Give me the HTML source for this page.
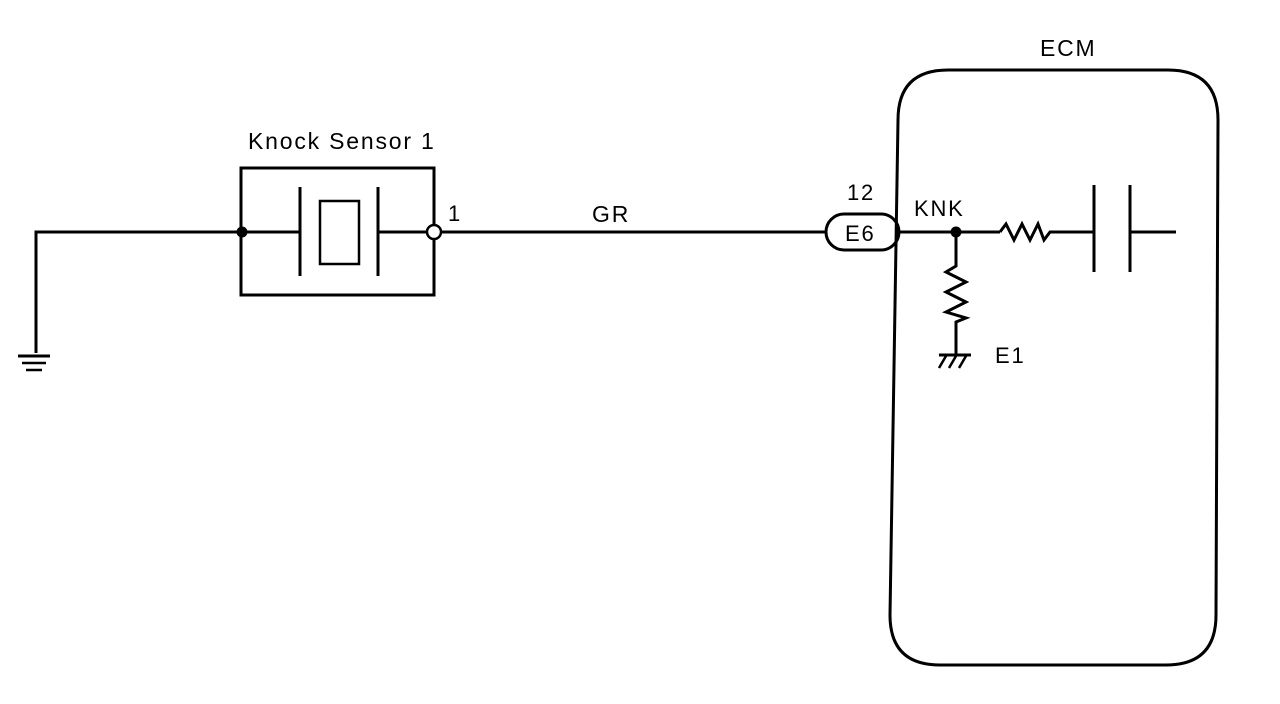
<!DOCTYPE html>
<html><head><style>
html,body{margin:0;padding:0;background:#fff;}
svg{display:block;}
text{font-family:"Liberation Sans",Arial,sans-serif;fill:#000;letter-spacing:1.8px;}
</style></head><body>
<svg width="1280" height="704" viewBox="0 0 1280 704" xmlns="http://www.w3.org/2000/svg">
<g stroke="#000" fill="none" stroke-width="3">
<polyline points="36,353 36,232 242,232"/>
<line x1="18" y1="356" x2="50" y2="356"/>
<line x1="22" y1="363" x2="46" y2="363" stroke-width="2.5"/>
<line x1="26" y1="370" x2="42" y2="370" stroke-width="2.5"/>
<rect x="241" y="168" width="193" height="127"/>
<line x1="242" y1="232" x2="300" y2="232"/>
<line x1="300" y1="187" x2="300" y2="276"/>
<line x1="378" y1="187" x2="378" y2="276"/>
<line x1="378" y1="232" x2="434" y2="232"/>
<rect x="320" y="201" width="39" height="63" stroke-width="2.5"/>
<line x1="441" y1="232" x2="826" y2="232"/>
<rect x="826" y="214" width="73" height="36" rx="18"/>
<path d="M948,70 L1168,70 Q1218,70 1218,120 L1216,615 Q1216,665 1166,665 L940,665 Q890,665 890,615 L898,120 Q898,70 948,70 Z"/>
<line x1="899" y1="232" x2="1000" y2="232"/>
<polyline points="1000,232 1006,224 1014,240 1022,224 1030,240 1038,224 1044,240 1050,232 1094,232"/>
<line x1="1094" y1="185" x2="1094" y2="272"/>
<line x1="1130" y1="185" x2="1130" y2="272"/>
<line x1="1130" y1="232" x2="1176" y2="232"/>
<polyline points="956,232 956,266 946,272 966,282 946,292 966,302 946,312 966,318 956,322 956,355"/>
<line x1="939" y1="355" x2="971" y2="355"/>
<line x1="946" y1="356" x2="939" y2="368" stroke-width="2.5"/>
<line x1="956" y1="356" x2="949" y2="368" stroke-width="2.5"/>
<line x1="966" y1="356" x2="959" y2="368" stroke-width="2.5"/>
</g>
<circle cx="242" cy="232" r="5.5" fill="#000"/>
<circle cx="434" cy="232" r="7" fill="#fff" stroke="#000" stroke-width="2.5"/>
<circle cx="956" cy="232" r="5.5" fill="#000"/>
<text x="248" y="149" font-size="23">Knock Sensor 1</text>
<text x="448" y="221" font-size="22">1</text>
<text x="592" y="222" font-size="23">GR</text>
<text x="847" y="200" font-size="22">12</text>
<text x="845" y="241" font-size="22">E6</text>
<text x="914" y="216" font-size="22">KNK</text>
<text x="995" y="363" font-size="22">E1</text>
<text x="1040" y="56" font-size="23">ECM</text>
</svg>
</body></html>
